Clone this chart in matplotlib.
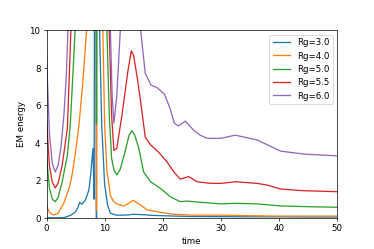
import matplotlib
matplotlib.use("Agg")
import matplotlib.pyplot as plt

labels = ["Rg=3.0", "Rg=4.0", "Rg=5.0", "Rg=5.5", "Rg=6.0"]

t_rg30 = [0, 1, 2, 3, 3.5, 4.2, 5.0, 5.4, 5.7, 6.1, 6.7, 7.3, 7.6, 8.0, 8.2, 8.4, 8.6, 8.8, 9.0, 9.5, 10.0, 10.5, 11.0, 12, 13, 14, 15, 16, 17, 18, 20, 22, 25, 30, 35, 40, 45, 50]
e_rg30 = [0.02, 0.01, 0.01, 0.02, 0.07, 0.15, 0.33, 0.55, 0.83, 0.73, 0.96, 1.49, 2.3, 3.7, 1.0, 40, 0.0, 40, 12, 5, 1.8, 0.7, 0.25, 0.15, 0.15, 0.16, 0.2, 0.18, 0.17, 0.14, 0.12, 0.1, 0.08, 0.07, 0.06, 0.06, 0.05, 0.05]

t_rg40 = [0, 0.5, 1.2, 2, 3, 4, 4.4, 5, 5.6, 6.2, 6.9, 7.5, 8.0, 8.5, 8.6, 8.7, 9.2, 9.7, 10.0, 10.4, 10.7, 11.0, 11.5, 12.1, 13.3, 14.0, 14.9, 16.2, 17.3, 19.6, 21.8, 25, 30, 35, 40, 45, 50]
e_rg40 = [0.65, 0.3, 0.16, 0.25, 0.8, 1.7, 2.3, 3.5, 5.0, 7.0, 10.0, 14, 20, 40, 0.4, 40, 20, 10, 5, 2.5, 1.9, 1.2, 0.9, 0.75, 0.64, 0.75, 0.94, 0.69, 0.43, 0.3, 0.2, 0.15, 0.15, 0.12, 0.1, 0.1, 0.1]

t_rg50 = [0, 0.5, 1.0, 1.5, 2.0, 2.7, 3.6, 4.1, 4.6, 5.0, 5.5, 7.0, 8.5, 8.6, 8.7, 9.5, 10.0, 10.4, 10.8, 11.2, 11.6, 12.1, 12.7, 13.5, 14.2, 14.7, 15.2, 15.9, 16.7, 17.9, 19.6, 21.3, 23.0, 24.2, 25.9, 30, 32.5, 36.3, 40.3, 45, 50]
e_rg50 = [3.3, 1.6, 1.0, 0.87, 1.1, 1.93, 3.35, 5.0, 8.0, 10.5, 15, 30, 40, 5.0, 40, 25, 15, 10, 5.5, 3.2, 2.55, 2.29, 2.6, 3.5, 4.4, 4.65, 4.4, 3.7, 2.46, 1.93, 1.58, 1.13, 0.87, 0.9, 0.85, 0.75, 0.78, 0.75, 0.64, 0.6, 0.57]

t_rg55 = [0, 0.5, 1.0, 1.5, 2.0, 2.7, 3.6, 4.2, 5.0, 7.0, 9.0, 10.0, 10.8, 11.2, 11.6, 12.1, 13.0, 14.0, 14.6, 15.0, 15.6, 16.2, 17.0, 17.9, 19.3, 20.7, 21.9, 23.0, 24.5, 25.9, 28, 30, 32.5, 36.3, 38, 40.3, 44.3, 50]
e_rg55 = [5.3, 2.8, 1.9, 1.6, 1.85, 2.8, 4.8, 10.0, 16, 40, 50, 25, 10, 5.5, 3.6, 3.7, 5.5, 7.8, 8.9, 8.65, 7.5, 6.2, 4.3, 3.9, 3.5, 3.0, 2.46, 2.07, 2.2, 1.93, 1.85, 1.84, 1.93, 1.84, 1.75, 1.54, 1.45, 1.4]

t_rg60 = [0, 0.5, 1.0, 1.5, 2.0, 2.5, 3.0, 3.4, 3.7, 4.0, 6.0, 9.0, 10.5, 11.0, 11.3, 11.6, 12.1, 12.7, 13.5, 14.5, 15.5, 16.2, 17.0, 18.0, 19.0, 20.3, 21.3, 22.0, 22.7, 23.9, 25.3, 26.5, 27.7, 30, 32.5, 36.3, 40.3, 44.3, 50]
e_rg60 = [8.7, 4.5, 2.9, 2.45, 2.8, 3.8, 5.5, 7.5, 10.0, 13, 40, 50, 20, 10, 6.5, 5.05, 6.5, 10, 14, 16, 13, 10, 7.7, 7.07, 6.95, 6.6, 5.8, 5.05, 4.9, 5.16, 4.68, 4.4, 4.24, 4.24, 4.41, 4.15, 3.56, 3.4, 3.31]

series_t = [t_rg30, t_rg40, t_rg50, t_rg55, t_rg60]
series_e = [e_rg30, e_rg40, e_rg50, e_rg55, e_rg60]

fig = plt.figure(figsize=(6, 4), dpi=374 / 6)
ax = fig.add_axes([46.5 / 374, 1 - 218 / 249, (337 - 46.5) / 374, (218 - 30.5) / 249])
for t, e, lab in zip(series_t, series_e, labels):
    ax.plot(t, e, label=lab)
ax.set_xlim(0, 50)
ax.set_ylim(0, 10)
ax.set_xlabel("time")
ax.set_ylabel("EM energy")
ax.legend(loc="upper right")
fig.savefig("out.png", dpi=374 / 6)
